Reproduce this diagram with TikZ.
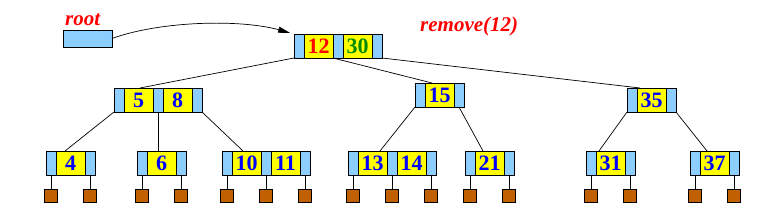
\documentclass[tikz,border=0pt]{standalone}
\usepackage{fontspec}
\setmainfont{Liberation Serif}
\usetikzlibrary{calc,arrows.meta}
\definecolor{ptrblue}{RGB}{140,206,255}
\definecolor{keyyel}{RGB}{255,255,0}
\definecolor{leafbrown}{RGB}{192,96,0}
\definecolor{keygreen}{RGB}{0,140,0}
\newcommand\bnodeA[4]{%
  \node[pcell] (#1-p0) at (#2,#3) {};
  \node[kcell] (#1-k1) at (#1-p0.north east) {#4};
  \node[pcell] (#1-p1) at (#1-k1.north east) {};
}
\newcommand\bnodeB[5]{%
  \node[pcell] (#1-p0) at (#2,#3) {};
  \node[kcell] (#1-k1) at (#1-p0.north east) {#4};
  \node[pcell] (#1-p1) at (#1-k1.north east) {};
  \node[kcell] (#1-k2) at (#1-p1.north east) {#5};
  \node[pcell] (#1-p2) at (#1-k2.north east) {};
}
\newcommand\leafsqs[2]{%
  \foreach \i in {0,...,#2} {
    \path (#1-p\i.south) ++(0,14) node[sq] (#1-s\i) {};
    \draw[link] (#1-p\i.south) -- (#1-s\i.north);
  }
}
\begin{document}
\begin{tikzpicture}[x=1pt,y=-1pt,
  pcell/.style={draw=black,line width=0.8pt,fill=ptrblue,minimum width=10pt,minimum height=24pt,inner sep=0pt,outer sep=0pt,anchor=north west},
  kcell/.style={draw=black,line width=0.8pt,fill=keyyel,minimum width=29pt,minimum height=24pt,inner sep=0pt,outer sep=0pt,anchor=north west,text=blue,font=\bfseries\fontsize{22}{22}\selectfont},
  sq/.style={draw=black,line width=0.8pt,fill=leafbrown,minimum size=13pt,inner sep=0pt,outer sep=0pt,anchor=north},
  link/.style={line width=0.7pt},
  redlabel/.style={text=red,font=\bfseries\itshape\fontsize{21}{21}\selectfont,inner sep=0pt,anchor=base west}]
\useasboundingbox (0,0) rectangle (783,224);

% labels
\node[redlabel] (rootlbl) at (65,26) {root};
\node[redlabel] (removelbl) at (420,32) {remove(12)};

% root pointer
\node[draw=black,line width=0.8pt,fill=ptrblue,minimum width=49pt,minimum height=17pt,inner sep=0pt,outer sep=0pt,anchor=north west] (rootptr) at (63,30) {};

% tree nodes
\bnodeB{root}{294}{34}{\textcolor{red}{12}}{\textcolor{keygreen}{30}}
\bnodeB{n58}{114}{88}{5}{8}
\bnodeA{n15}{415}{83}{15}
\bnodeA{n35}{627}{88}{35}
\bnodeA{l4}{46}{151}{4}
\bnodeA{l6}{137}{151}{6}
\bnodeB{l1011}{222}{151}{10}{11}
\bnodeB{l1314}{348}{151}{13}{14}
\bnodeA{l21}{465}{151}{21}
\bnodeA{l31}{586}{151}{31}
\bnodeA{l37}{690}{151}{37}

% arrow from root pointer
\draw[link,-{Triangle[length=12pt,width=6pt]},shorten >=4pt] (rootptr.east) .. controls (160,21) and (240,19) .. (root-p0.north west);

% edges
\draw[link] (root-p0.south west) -- ($(n58-k1.north west)+(16,0)$);
\draw[link] (root-p1.south west) -- ($(n15-k1.north west)+(7,0)$);
\draw[link] (root-p2.south east) -- ($(n35-k1.north west)+(3,0)$);
\draw[link] (n58-p0.south west) -- ($(l4-k1.north west)+(9,0)$);
\draw[link] (n58-p1.south) -- (n58-p1.south |- l6-k1.north);
\draw[link] (n58-p2.south east) -- ($(l1011-k1.north west)+(11,0)$);
\draw[link] (n15-p0.south west) -- ($(l1314-k1.north west)+(22,0)$);
\draw[link] (n15-p1.south) -- ($(l21-k1.north west)+(8,0)$);
\draw[link] (n35-p0.south west) -- ($(l31-k1.north west)+(3,0)$);
\draw[link] (n35-p1.south east) -- ($(l37-k1.north west)+(7,0)$);

% leaf squares
\leafsqs{l4}{1}
\leafsqs{l6}{1}
\leafsqs{l1011}{2}
\leafsqs{l1314}{2}
\leafsqs{l21}{1}
\leafsqs{l31}{1}
\leafsqs{l37}{1}
\end{tikzpicture}
\end{document}
